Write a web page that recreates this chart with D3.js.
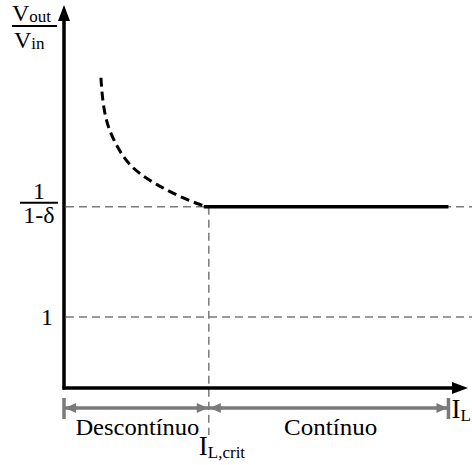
<!DOCTYPE html>
<html><head><meta charset="utf-8">
<script src="https://cdn.jsdelivr.net/npm/d3@7"></script>
<style>body{margin:0;background:#fff}svg{display:block}text{font-family:"Liberation Serif","Times New Roman",serif;fill:#000}</style>
</head><body><div id="c"></div>
<script>
// Data (arbitrary units)
const xMaxVal = 2.79;      // end of I_L axis (arrow tip)
const yMaxVal = 5.39;      // end of Vout/Vin axis (arrow tip)
const iCrit = 1;           // I_L,crit
const iEnd = 2.655;        // right end of region bar / I_L label
const yOne = 1;            // tick "1"
const yCCM = 2.55;         // tick 1/(1-δ)
const dcmX = [0.255,0.262,0.276,0.303,0.352,0.421,0.510,0.641,0.800,0.959,1.0];
const dcmY = [4.366,4.155,3.915,3.676,3.451,3.211,3.028,2.859,2.690,2.563,2.55];
const ccmX = [1.0, 2.655];
const ccmY = [2.55, 2.55];
const regionLabels = ["Descontínuo","Contínuo"];

const W=472,H=465;
const svg=d3.select("#c").append("svg").attr("width",W).attr("height",H);
const x=d3.scaleLinear().domain([0,xMaxVal]).range([64,468]);
const y=d3.scaleLinear().domain([0,yMaxVal]).range([388,5]);
const grey="#7a7a7a";

// guide dashed lines
[yOne,yCCM].forEach(v=>{
  svg.append("line").attr("x1",x(0)+2).attr("x2",W).attr("y1",y(v)).attr("y2",y(v))
    .attr("stroke",grey).attr("stroke-width",1.5).attr("stroke-dasharray","8,5");
});
svg.append("line").attr("x1",x(iCrit)).attr("x2",x(iCrit)).attr("y1",y(yCCM)).attr("y2",435)
  .attr("stroke",grey).attr("stroke-width",1.5).attr("stroke-dasharray","8,5");

// DCM curve (dashed)
const line=d3.line().curve(d3.curveBasis);
svg.append("path").attr("d",line(dcmX.map((d,i)=>[x(d),y(dcmY[i])])))
  .attr("fill","none").attr("stroke","#000").attr("stroke-width",3).attr("stroke-dasharray","9,5");
// CCM line
svg.append("path").attr("d",d3.line()(ccmX.map((d,i)=>[x(d)-(i==0?5:0),y(ccmY[i])])))
  .attr("fill","none").attr("stroke","#000").attr("stroke-width",3.5);

// axes
svg.append("line").attr("x1",x(0)).attr("x2",x(0)).attr("y1",y(0)+1.5).attr("y2",y(yMaxVal)+12)
  .attr("stroke","#000").attr("stroke-width",3.5);
svg.append("line").attr("x1",x(0)-1.5).attr("x2",x(xMaxVal)-12).attr("y1",y(0)).attr("y2",y(0))
  .attr("stroke","#000").attr("stroke-width",3.5);
svg.append("path").attr("d",`M${x(0)},${y(yMaxVal)} L${x(0)-6},${y(yMaxVal)+16} L${x(0)+6},${y(yMaxVal)+16}Z`).attr("fill","#000");
svg.append("path").attr("d",`M${x(xMaxVal)},${y(0)} L${x(xMaxVal)-16},${y(0)-6} L${x(xMaxVal)-16},${y(0)+6}Z`).attr("fill","#000");

// region dimension bar
const by=408;
svg.append("line").attr("x1",x(0)).attr("x2",x(iEnd)).attr("y1",by).attr("y2",by).attr("stroke",grey).attr("stroke-width",3.5);
[0,iEnd].forEach(v=>svg.append("line").attr("x1",x(v)).attr("x2",x(v)).attr("y1",by-10).attr("y2",by+11).attr("stroke",grey).attr("stroke-width",3.5));
function arrow(tip,dir){
  svg.append("path").attr("d",`M${tip},${by} L${tip-dir*11},${by-5} L${tip-dir*11},${by+5}Z`).attr("fill",grey);
}
arrow(x(0)+1,-1); arrow(x(iEnd)-1,1); arrow(x(iCrit)-1,1); arrow(x(iCrit)+1,-1);

svg.append("text").attr("x",(x(0)+x(iCrit))/2+1).attr("y",435).attr("text-anchor","middle").attr("font-size",24).attr("textLength",124).attr("lengthAdjust","spacingAndGlyphs").text(regionLabels[0]);
svg.append("text").attr("x",(x(iCrit)+x(iEnd))/2+2).attr("y",435).attr("text-anchor","middle").attr("font-size",24).attr("textLength",93).attr("lengthAdjust","spacingAndGlyphs").text(regionLabels[1]);

// I_L,crit
let t=svg.append("text").attr("x",x(iCrit)-10).attr("y",455).attr("font-size",27);
t.append("tspan").text("I");
t.append("tspan").attr("font-size",17).attr("dy",3).text("L,crit");
// I_L
t=svg.append("text").attr("x",x(iEnd)+3).attr("y",418).attr("font-size",27);
t.append("tspan").text("I");
t.append("tspan").attr("font-size",17).attr("dy",3).text("L");

// y labels
t=svg.append("text").attr("x",12).attr("y",21).attr("font-size",24);
t.append("tspan").text("V");
t.append("tspan").attr("font-size",17).attr("dy",1).text("out");
svg.append("line").attr("x1",12).attr("x2",57).attr("y1",26).attr("y2",26).attr("stroke","#000").attr("stroke-width",2);
t=svg.append("text").attr("x",14).attr("y",48).attr("font-size",24);
t.append("tspan").text("V");
t.append("tspan").attr("font-size",17).attr("dy",1).text("in");

svg.append("text").attr("x",39).attr("y",y(yCCM)-8).attr("text-anchor","middle").attr("font-size",24).text("1");
svg.append("line").attr("x1",20).attr("x2",58).attr("y1",y(yCCM)-4).attr("y2",y(yCCM)-4).attr("stroke","#000").attr("stroke-width",2);
svg.append("text").attr("x",39).attr("y",y(yCCM)+16).attr("text-anchor","middle").attr("font-size",24).text("1-δ");
svg.append("text").attr("x",47).attr("y",y(yOne)+8).attr("text-anchor","middle").attr("font-size",24).text("1");
</script></body></html>
